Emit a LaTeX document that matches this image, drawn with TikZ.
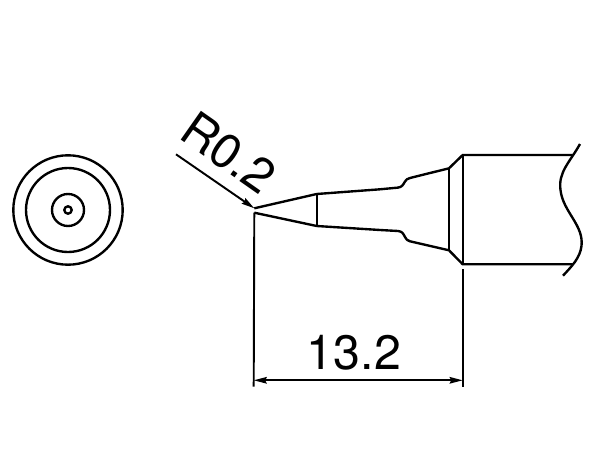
\documentclass[tikz,border=0pt]{standalone}
\usepackage{fontspec}
\setmainfont{TeX Gyre Heros}
\usetikzlibrary{arrows.meta}
\tikzset{
outline/.style={line width=1.35pt,line join=round},
dimline/.style={line width=1.1pt},
dimtip/.tip={Stealth[length=2.6mm,width=1.3mm,inset=0.3mm]},
dimtext/.style={font=\fontsize{27.5}{27.5}\selectfont,inner sep=0pt}
}
\begin{document}
\begin{tikzpicture}[x=0.02cm,y=-0.02cm]
\useasboundingbox (0,0) rectangle (600,450);
\foreach \rad in {54.7,42,16,3.7} \draw[outline] (68,210) circle (\rad);
\coordinate (tiptop) at (254.3,208.3);
\coordinate (tipbot) at (254.3,212.7);
\coordinate (shouldertop) at (449,168.3);
\coordinate (shoulderbot) at (449,250.3);
\coordinate (bodytop) at (462.7,155);
\coordinate (bodybot) at (462.7,264.3);
\coordinate (leaderstart) at (176,154.3);
\coordinate (dimleft) at (253.7,380.3);
\coordinate (dimright) at (462.7,380.3);
\draw[outline] (tiptop) -- (316.7,194) -- (380,189.3) -- (398,187.6) .. controls (402,187) and (403,185) .. (405,181.5) .. controls (406,179.5) and (407.5,178.8) .. (410,178) -- (shouldertop) -- (bodytop) -- (572.7,155);
\draw[outline] (tipbot) -- (312,225) -- (316.7,226) -- (380,230) -- (398,231) .. controls (402,231.5) and (403,233) .. (405,237) .. controls (406,239.5) and (407.5,240.5) .. (410,241.3) -- (shoulderbot) -- (bodybot) -- (572.7,264.3);
\draw[outline] (316.7,194) -- (316.7,226);
\draw[outline] (shouldertop) -- (shoulderbot);
\draw[outline] (bodytop) -- (bodybot);
\draw[outline] (580,144) .. controls (570,162) and (558,172) .. (560.5,190) .. controls (563,212) and (584,225) .. (581.5,246) .. controls (580,258) and (572,266) .. (563,275.7);
\draw[dimline] (tipbot) -- (253.7,386.7);
\draw[dimline] (462.7,269) -- (462.7,386.7);
\draw[dimline,dimtip-dimtip] (dimleft) -- (dimright);
\draw[dimline,-dimtip] (leaderstart) -- (tiptop);
\node[dimtext] (length) at (354,353) {13.2};
\node[dimtext,rotate=-35] (radius) at (229,152.5) {R0.2};
\end{tikzpicture}
\end{document}
